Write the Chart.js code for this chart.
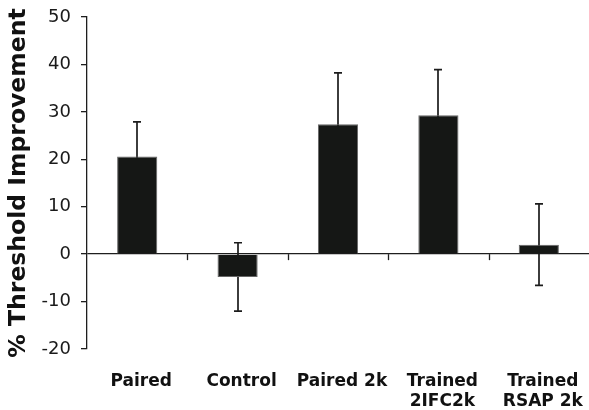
<!DOCTYPE html>
<html>
<head>
<meta charset="utf-8">
<script src="https://cdn.jsdelivr.net/npm/chart.js@4/dist/chart.umd.min.js"></script>
<style>
  html, body { margin: 0; padding: 0; background: #fff; }
  #wrap { width: 589px; height: 410px; position: relative; }
</style>
</head>
<body>
<div id="wrap"><canvas id="c"></canvas></div>
<script>
const categories = ['Paired', 'Control', 'Paired 2k', ['Trained', '2IFC2k'], ['Trained', 'RSAP 2k']];
const values = [20.6, -4.8, 27.4, 29.3, 2.0];
const errors = [7.3, 7.2, 10.8, 9.6, 8.6];
const yTicks = [-20, -10, 0, 10, 20, 30, 40, 50];
const yTitle = '% Threshold Improvement';

const AXIS = '#1e1e1e';

const errorBarPlugin = {
  id: 'errorBars',
  beforeDatasetsDraw(chart) {
    const meta = chart.getDatasetMeta(0);
    const ys = chart.scales.y;
    const ctx = chart.ctx;
    ctx.save();
    ctx.strokeStyle = '#1c1c1c';
    ctx.lineWidth = 1.7;
    meta.data.forEach((bar, i) => {
      const x = Math.round(bar.x);
      const hi = ys.getPixelForValue(values[i] + errors[i]);
      const lo = ys.getPixelForValue(values[i] - errors[i]);
      ctx.beginPath();
      ctx.moveTo(x, hi); ctx.lineTo(x, lo);
      ctx.moveTo(x - 4, hi); ctx.lineTo(x + 4, hi);
      ctx.moveTo(x - 4, lo); ctx.lineTo(x + 4, lo);
      ctx.stroke();
    });
    ctx.restore();
  }
};

const xTickPlugin = {
  id: 'xTicks',
  afterDatasetsDraw(chart) {
    const xs = chart.scales.x, ys = chart.scales.y;
    const ctx = chart.ctx;
    const y0 = ys.getPixelForValue(0);
    ctx.save();
    ctx.strokeStyle = AXIS;
    ctx.lineWidth = 1.3;
    for (let i = 1; i < categories.length; i++) {
      const x = Math.round((xs.getPixelForValue(i - 1) + xs.getPixelForValue(i)) / 2) + 0.5;
      ctx.beginPath();
      ctx.moveTo(x, y0); ctx.lineTo(x, y0 + 6);
      ctx.stroke();
    }
    ctx.restore();
  }
};

new Chart(document.getElementById('c'), {
  type: 'bar',
  data: {
    labels: categories,
    datasets: [{
      data: values,
      backgroundColor: '#151715',
      borderColor: '#666',
      borderWidth: 1,
      categoryPercentage: 1.0,
      barPercentage: 0.4
    }]
  },
  options: {
    responsive: true,
    maintainAspectRatio: false,
    animation: false,
    layout: { padding: { top: 17, right: 0, bottom: 0, left: 0 } },
    plugins: { legend: { display: false }, tooltip: { enabled: false } },
    scales: {
      x: {
        offset: true,
        border: { display: false },
        grid: { display: false, drawTicks: false },
        afterFit(scale) { scale.height = 61; scale.paddingLeft = 0; scale.paddingRight = 0; },
        ticks: {
          color: '#111',
          padding: 23,
          labelOffset: 4,
          maxRotation: 0,
          autoSkip: false,
          font: { family: 'DejaVu Sans', size: 17, weight: 'bold', lineHeight: 1.15 }
        }
      },
      y: {
        min: -20,
        max: 50,
        afterBuildTicks(scale) { scale.ticks = yTicks.map(v => ({ value: v })); },
        afterFit(scale) { scale.width = 87; scale.paddingTop = 0; scale.paddingBottom = 0; },
        border: { display: true, color: AXIS, width: 1.3 },
        grid: {
          drawOnChartArea: true,
          color: ctx => (ctx.tick && ctx.tick.value === 0) ? AXIS : 'rgba(0,0,0,0)',
          lineWidth: 1.3,
          tickColor: AXIS,
          tickLength: 6
        },
        ticks: {
          color: '#1a1a1a',
          padding: 10,
          font: { family: 'DejaVu Sans', size: 18 }
        },
        title: {
          display: true,
          text: yTitle,
          color: '#111',
          padding: { top: 5, bottom: 0 },
          font: { family: 'DejaVu Sans', size: 23.5, weight: 'bold' }
        }
      }
    }
  },
  plugins: [errorBarPlugin, xTickPlugin]
});
</script>
</body>
</html>
